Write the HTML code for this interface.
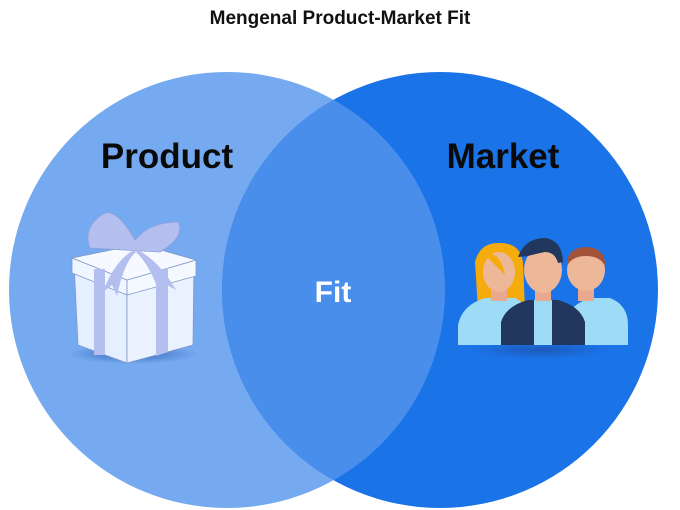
<!DOCTYPE html>
<html><head><style>
body{margin:0;background:#fff;}
svg{display:block;}
text{font-family:"Liberation Sans",sans-serif;font-weight:bold;}
</style></head><body>
<svg width="680" height="510" viewBox="0 0 680 510" xmlns="http://www.w3.org/2000/svg">
<defs>
<clipPath id="lc"><circle cx="227" cy="290" r="218"/></clipPath>
<radialGradient id="sh"><stop offset="0" stop-color="#1d4fa8" stop-opacity="0.7"/><stop offset="1" stop-color="#1d4fa8" stop-opacity="0"/></radialGradient>
</defs>
<text x="340" y="24" font-size="19" text-anchor="middle" fill="#111">Mengenal Product-Market Fit</text>
<circle cx="227" cy="290" r="218" fill="#76aaf0"/>
<circle cx="440" cy="290" r="218" fill="#1b73e8"/>
<circle cx="440" cy="290" r="218" fill="#4a8eec" clip-path="url(#lc)"/>
<text x="167" y="168" font-size="35" text-anchor="middle" fill="#0a0a0a">Product</text>
<text x="503" y="168" font-size="35" text-anchor="middle" fill="#0a0a0a">Market</text>
<text x="333" y="302" font-size="30" text-anchor="middle" fill="#fff">Fit</text>
<!-- gift -->
<ellipse cx="133" cy="354" rx="65" ry="10" fill="url(#sh)"/>
<polygon points="74,262 127,278 127,363 78,345" fill="#e6efff" stroke="#7f97c9" stroke-width="0.8"/>
<polygon points="127,278 194,262 193,345 127,363" fill="#eaf2ff" stroke="#7f97c9" stroke-width="0.8"/>
<polygon points="72,258 127,280 127,295 72,273" fill="#f0f6ff" stroke="#7f97c9" stroke-width="0.8"/>
<polygon points="127,280 196,260 196,276 127,295" fill="#f4f8ff" stroke="#7f97c9" stroke-width="0.8"/>
<polygon points="72,258 140,244 196,260 127,280" fill="#f6f9ff" stroke="#7f97c9" stroke-width="0.8"/>
<rect x="94" y="269" width="11" height="86" fill="#b4bff0"/>
<polygon points="156,272 168,268 168,352 156,356" fill="#b4bff0"/>
<path d="M90,248 Q82,226 105,213 Q118,210 135,240 Q150,222 178,222 Q186,236 160,252 Z" fill="#b4bff0" stroke="#8fa0d8" stroke-width="0.8"/>
<path d="M134,250 Q115,260 103,292 L112,285 L117,296 Q124,262 136,252 Z" fill="#b4bff0"/>
<path d="M138,250 Q160,262 176,290 L165,284 L160,295 Q150,265 136,252 Z" fill="#b4bff0"/>
<!-- people -->
<ellipse cx="540" cy="350" rx="70" ry="9" fill="url(#sh)"/>
<path d="M478,310 L475,262 Q480,242 500,243 Q520,243 523,262 L525,310 Z" fill="#f5ab0c"/>
<path d="M458,345 L458,325 Q462,305 485,298 L515,298 Q530,305 530,325 L530,345 Z" fill="#9ddbf6"/>
<rect x="491" y="285" width="16" height="16" fill="#e8a990"/>
<ellipse cx="499" cy="272" rx="16" ry="20" fill="#edb898"/>
<path d="M485,255 Q500,250 505,275 Q492,262 485,255 Z" fill="#f5ab0c"/>
<path d="M565,345 L565,320 Q570,305 590,298 L610,298 Q628,305 628,325 L628,345 Z" fill="#9ddbf6"/>
<rect x="578" y="285" width="16" height="16" fill="#e8a990"/>
<ellipse cx="586" cy="270" rx="19" ry="21" fill="#edb898"/>
<path d="M567,266 Q566,248 586,247 Q606,248 605,266 Q600,256 586,256 Q572,256 567,266 Z" fill="#a3533a"/>
<path d="M501,345 L501,322 Q506,306 528,300 L558,300 Q580,306 585,322 L585,345 Z" fill="#22375e"/>
<rect x="534" y="300" width="18" height="45" fill="#9ddbf6"/>
<rect x="535" y="285" width="16" height="16" fill="#e8a990"/>
<ellipse cx="543" cy="270" rx="19" ry="23" fill="#edb898"/>
<path d="M518,257 Q525,238 545,238 Q562,240 563,262 L558,263 Q555,252 545,252 Q535,254 528,256 Z" fill="#22375e"/>
</svg>
</body></html>
